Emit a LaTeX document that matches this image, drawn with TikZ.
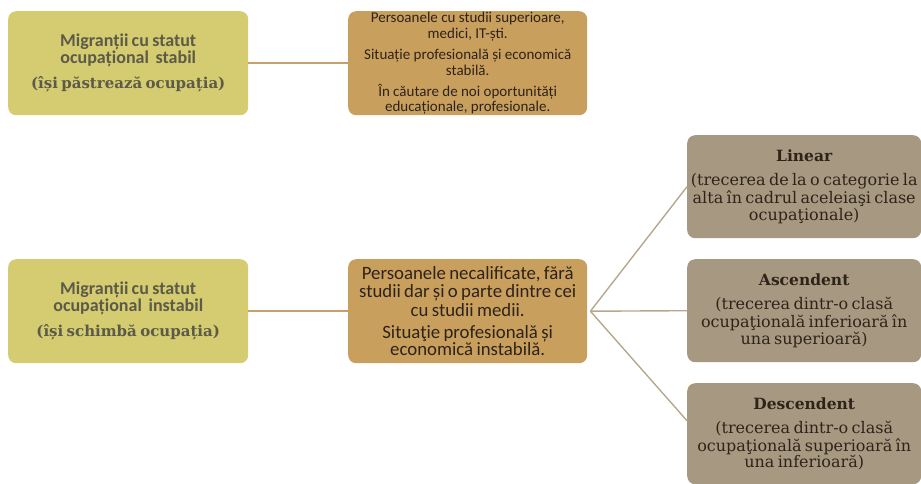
\documentclass[tikz,border=0pt]{standalone}
\usepackage{fontspec}
\setmainfont{DejaVu Serif}
\newfontfamily\calfont{Carlito}
\definecolor{colA}{RGB}{213,203,112}
\definecolor{colB}{RGB}{201,159,94}
\definecolor{colC}{RGB}{167,153,129}
\definecolor{txtA}{RGB}{92,90,72}
\definecolor{txtB}{RGB}{45,35,25}
\definecolor{lineB}{RGB}{200,160,105}
\definecolor{lineC}{RGB}{182,168,140}
\begin{document}
\begin{tikzpicture}[x=1pt,y=-1pt,
  boxbase/.style={rounded corners=8pt, minimum width=240pt, minimum height=104pt, inner sep=1pt, align=center, anchor=north west},
  boxA/.style={boxbase, fill=colA, text=txtA, text width=236pt},
  boxB/.style={boxbase, minimum width=239pt, fill=colB, text=txtB, text width=236pt},
  boxC/.style={boxbase, minimum width=234pt, minimum height=103pt, fill=colC, text=txtB, text width=232pt},
  linkB/.style={draw=lineB, line width=1.6pt},
  linkC/.style={draw=lineC, line width=1.4pt}]
\useasboundingbox (0,0) rectangle (921,483);
\node[boxA] (a1) at (8,11) {{\calfont\fontsize{18}{18}\selectfont\bfseries Migranții cu statut\\ ocupațional\ \ stabil}\\[9pt]{\fontsize{15}{18}\selectfont\bfseries (își păstrează ocupația)}};
\node[boxB] (b1) at (348,11) {\calfont\fontsize{15}{15.5}\selectfont Persoanele cu studii superioare,\\ medici, IT-ști.\\[6pt] Situație profesională și economică\\ stabilă.\\[6pt] În căutare de noi oportunități\\ educaționale, profesionale.};
\node[boxA] (a2) at (8,259) {{\calfont\fontsize{18}{18}\selectfont\bfseries Migranții cu statut\\ ocupațional\ \ instabil}\\[9pt]{\fontsize{15}{18}\selectfont\bfseries (își schimbă ocupația)}};
\node[boxB] (b2) at (348,259) {\calfont\fontsize{18.8}{18.3}\selectfont Persoanele necalificate, fără\\ studii dar și o parte dintre cei\\ cu studii medii.\\[4pt] Situaţie profesională și\\ economică instabilă.};
\node[boxC] (c1) at (687,135) {\fontsize{16}{18}\selectfont{\fontsize{15.5}{18}\selectfont\bfseries Linear}\\[6pt](trecerea de la o categorie la\\ alta în cadrul aceleiaşi clase\\ ocupaţionale)};
\node[boxC] (c2) at (687,259) {\fontsize{16}{18}\selectfont{\fontsize{15.5}{18}\selectfont\bfseries Ascendent}\\[6pt](trecerea dintr-o clasă\\ ocupaţională inferioară în\\ una superioară)};
\node[boxC, minimum height=101pt] (c3) at (687,383) {\fontsize{16}{18}\selectfont{\fontsize{15.5}{18}\selectfont\bfseries Descendent}\\[6pt](trecerea dintr-o clasă\\ ocupaţională superioară în\\ una inferioară)};
\draw[linkB] (a1.east) -- (b1.west);
\draw[linkB] (a2.east) -- (b2.west);
\coordinate (hub) at ([xshift=3pt]b2.east);
\draw[linkC] (hub) -- (c1.west);
\draw[linkC] (hub) -- (c2.west);
\draw[linkC] (hub) -- ([yshift=13pt]c3.west);
\end{tikzpicture}
\end{document}
